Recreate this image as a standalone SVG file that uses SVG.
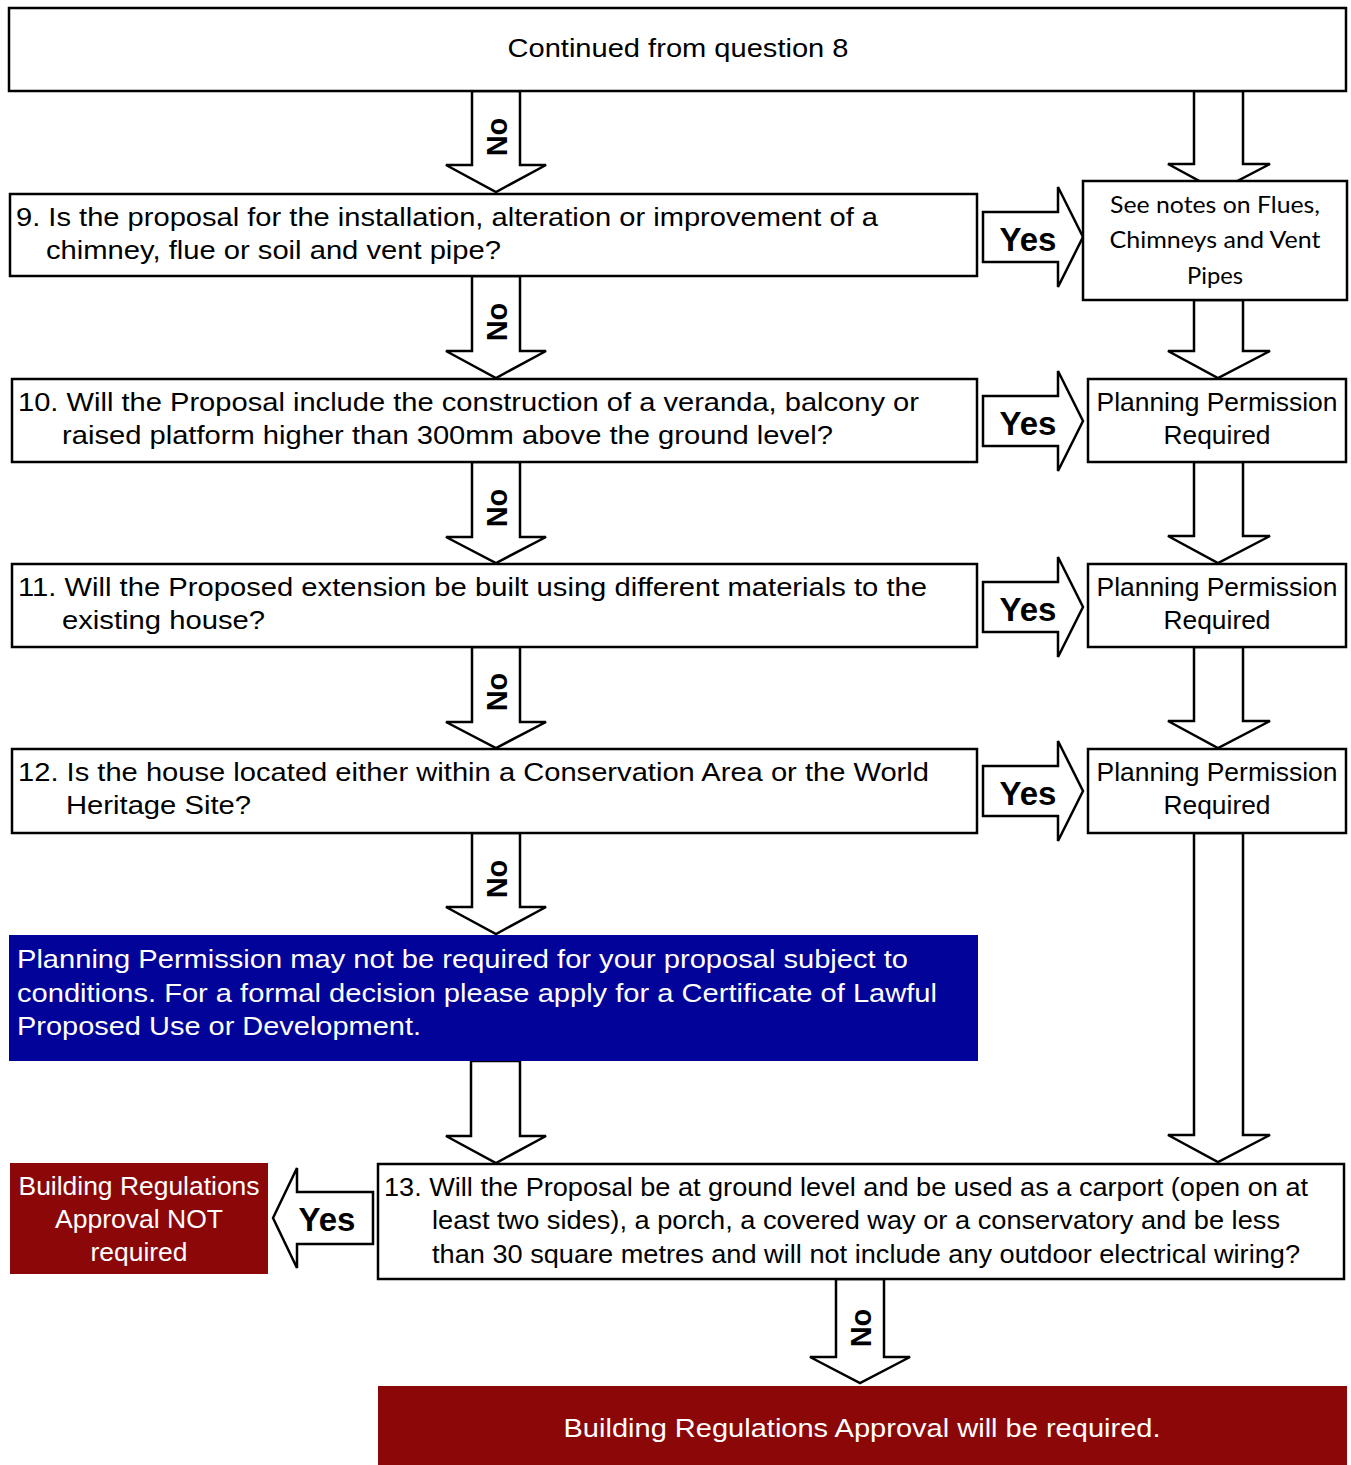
<svg xmlns="http://www.w3.org/2000/svg" width="1351" height="1465" viewBox="0 0 1351 1465">
<style>
.box{fill:#fff;stroke:#000;stroke-width:2.5}
.arr{fill:#fff;stroke:#000;stroke-width:2.5;stroke-linejoin:miter}
.t{font-family:"Liberation Sans",Arial,sans-serif;font-size:26px;fill:#000}
.w{font-family:"Liberation Sans",Arial,sans-serif;font-size:26px;fill:#fff}
.g{font-family:Lato,"Open Sans",sans-serif;font-size:24px;fill:#000}
.yes{font-family:"Liberation Sans",Arial,sans-serif;font-size:33px;font-weight:bold;fill:#000}
.no{font-family:"Liberation Sans",Arial,sans-serif;font-size:29px;font-weight:bold;fill:#000}
.blue{fill:#020399}
.red{fill:#8c0808}
</style>
<rect width="1351" height="1465" fill="#fff"/>
<g id="connectors">
<polygon class="arr" points="472,91 520,91 520,165 546,165 496,192 446,165 472,165"/>
<polygon class="arr" points="472,276 520,276 520,351 546,351 496,378 446,351 472,351"/>
<polygon class="arr" points="472,462 520,462 520,537 546,537 496,563 446,537 472,537"/>
<polygon class="arr" points="472,647 520,647 520,722 546,722 496,748 446,722 472,722"/>
<polygon class="arr" points="472,833 520,833 520,907 546,907 496,934 446,907 472,907"/>
<polygon class="arr" points="471,1061 520,1061 520,1136 546,1136 496,1163 446,1136 471,1136"/>
<polygon class="arr" points="836,1279 884,1279 884,1357 910,1357 860,1383 810,1357 836,1357"/>
<polygon class="arr" points="1194,91 1243,91 1243,164 1270,164 1218,191 1168,164 1194,164"/>
<polygon class="arr" points="1194,300 1243,300 1243,351 1270,351 1218,378 1168,351 1194,351"/>
<polygon class="arr" points="1194,462 1243,462 1243,536 1270,536 1218,563 1168,536 1194,536"/>
<polygon class="arr" points="1194,647 1243,647 1243,721 1270,721 1218,748 1168,721 1194,721"/>
<polygon class="arr" points="1194,833 1243,833 1243,1135 1270,1135 1218,1162 1168,1135 1194,1135"/>
<polygon class="arr" points="983,212 1058,212 1058,187 1083,237 1058,287 1058,262 983,262"/>
<polygon class="arr" points="983,396 1058,396 1058,371 1083,421 1058,471 1058,446 983,446"/>
<polygon class="arr" points="983,582 1058,582 1058,557 1083,607 1058,657 1058,632 983,632"/>
<polygon class="arr" points="983,766 1058,766 1058,741 1083,791 1058,841 1058,816 983,816"/>
<polygon class="arr" points="373,1192 297,1192 297,1168 273,1218 297,1268 297,1244 373,1244"/>
<text class="no" transform="translate(507,137) rotate(-90)" text-anchor="middle">No</text>
<text class="no" transform="translate(507,322) rotate(-90)" text-anchor="middle">No</text>
<text class="no" transform="translate(507,508) rotate(-90)" text-anchor="middle">No</text>
<text class="no" transform="translate(507,692) rotate(-90)" text-anchor="middle">No</text>
<text class="no" transform="translate(507,879) rotate(-90)" text-anchor="middle">No</text>
<text class="no" transform="translate(871,1328) rotate(-90)" text-anchor="middle">No</text>
<text class="yes" x="1028" y="251" text-anchor="middle">Yes</text>
<text class="yes" x="1028" y="435" text-anchor="middle">Yes</text>
<text class="yes" x="1028" y="621" text-anchor="middle">Yes</text>
<text class="yes" x="1028" y="805" text-anchor="middle">Yes</text>
<text class="yes" x="327" y="1231" text-anchor="middle">Yes</text>
</g>
<g id="start">
<rect class="box" x="9" y="8" width="1337" height="83"/>
<text class="t" x="678" y="57" text-anchor="middle" textLength="341" lengthAdjust="spacingAndGlyphs">Continued from question 8</text>
</g>
<g id="q9">
<rect class="box" x="10" y="194" width="967" height="82"/>
<text class="t" x="16" y="226" textLength="862" lengthAdjust="spacingAndGlyphs">9. Is the proposal for the installation, alteration or improvement of a</text>
<text class="t" x="46" y="259" textLength="455" lengthAdjust="spacingAndGlyphs">chimney, flue or soil and vent pipe?</text>
</g>
<g id="notes">
<rect class="box" x="1083" y="181" width="264" height="119"/>
<text class="g" x="1215" y="213" text-anchor="middle" textLength="210" lengthAdjust="spacingAndGlyphs">See notes on Flues,</text>
<text class="g" x="1215" y="248" text-anchor="middle" textLength="211" lengthAdjust="spacingAndGlyphs">Chimneys and Vent</text>
<text class="g" x="1215" y="284" text-anchor="middle" textLength="56" lengthAdjust="spacingAndGlyphs">Pipes</text>
</g>
<g id="q10">
<rect class="box" x="12" y="379" width="965" height="83"/>
<text class="t" x="18" y="411" textLength="901" lengthAdjust="spacingAndGlyphs">10. Will the Proposal include the construction of a veranda, balcony or</text>
<text class="t" x="62" y="444" textLength="771" lengthAdjust="spacingAndGlyphs">raised platform higher than 300mm above the ground level?</text>
</g>
<g id="pp1">
<rect class="box" x="1088" y="379" width="258" height="83"/>
<text class="t" x="1217" y="411" text-anchor="middle" textLength="241" lengthAdjust="spacingAndGlyphs">Planning Permission</text>
<text class="t" x="1217" y="444" text-anchor="middle" textLength="107" lengthAdjust="spacingAndGlyphs">Required</text>
</g>
<g id="q11">
<rect class="box" x="12" y="564" width="965" height="83"/>
<text class="t" x="18" y="596" textLength="909" lengthAdjust="spacingAndGlyphs">11. Will the Proposed extension be built using different materials to the</text>
<text class="t" x="62" y="629" textLength="203" lengthAdjust="spacingAndGlyphs">existing house?</text>
</g>
<g id="pp2">
<rect class="box" x="1088" y="564" width="258" height="83"/>
<text class="t" x="1217" y="596" text-anchor="middle" textLength="241" lengthAdjust="spacingAndGlyphs">Planning Permission</text>
<text class="t" x="1217" y="629" text-anchor="middle" textLength="107" lengthAdjust="spacingAndGlyphs">Required</text>
</g>
<g id="q12">
<rect class="box" x="12" y="749" width="965" height="84"/>
<text class="t" x="18" y="781" textLength="911" lengthAdjust="spacingAndGlyphs">12. Is the house located either within a Conservation Area or the World</text>
<text class="t" x="66" y="814" textLength="185" lengthAdjust="spacingAndGlyphs">Heritage Site?</text>
</g>
<g id="pp3">
<rect class="box" x="1088" y="749" width="258" height="84"/>
<text class="t" x="1217" y="781" text-anchor="middle" textLength="241" lengthAdjust="spacingAndGlyphs">Planning Permission</text>
<text class="t" x="1217" y="814" text-anchor="middle" textLength="107" lengthAdjust="spacingAndGlyphs">Required</text>
</g>
<g id="result-pp">
<rect class="blue" x="9" y="935" width="969" height="126"/>
<text class="w" x="17" y="968" textLength="891" lengthAdjust="spacingAndGlyphs">Planning Permission may not be required for your proposal subject to</text>
<text class="w" x="17" y="1002" textLength="920" lengthAdjust="spacingAndGlyphs">conditions. For a formal decision please apply for a Certificate of Lawful</text>
<text class="w" x="17" y="1035" textLength="404" lengthAdjust="spacingAndGlyphs">Proposed Use or Development.</text>
</g>
<g id="q13">
<rect class="box" x="378" y="1164" width="966" height="115"/>
<text class="t" x="384" y="1196" textLength="924" lengthAdjust="spacingAndGlyphs">13. Will the Proposal be at ground level and be used as a carport (open on at</text>
<text class="t" x="432" y="1229" textLength="848" lengthAdjust="spacingAndGlyphs">least two sides), a porch, a covered way or a conservatory and be less</text>
<text class="t" x="432" y="1263" textLength="868" lengthAdjust="spacingAndGlyphs">than 30 square metres and will not include any outdoor electrical wiring?</text>
</g>
<g id="br-not-required">
<rect class="red" x="10" y="1163" width="258" height="111"/>
<text class="w" x="139" y="1195" text-anchor="middle" textLength="241" lengthAdjust="spacingAndGlyphs">Building Regulations</text>
<text class="w" x="139" y="1228" text-anchor="middle" textLength="168" lengthAdjust="spacingAndGlyphs">Approval NOT</text>
<text class="w" x="139" y="1261" text-anchor="middle" textLength="97" lengthAdjust="spacingAndGlyphs">required</text>
</g>
<g id="br-required">
<rect class="red" x="378" y="1386" width="969" height="79"/>
<text class="w" x="862" y="1437" text-anchor="middle" textLength="597" lengthAdjust="spacingAndGlyphs">Building Regulations Approval will be required.</text>
</g>
</svg>
